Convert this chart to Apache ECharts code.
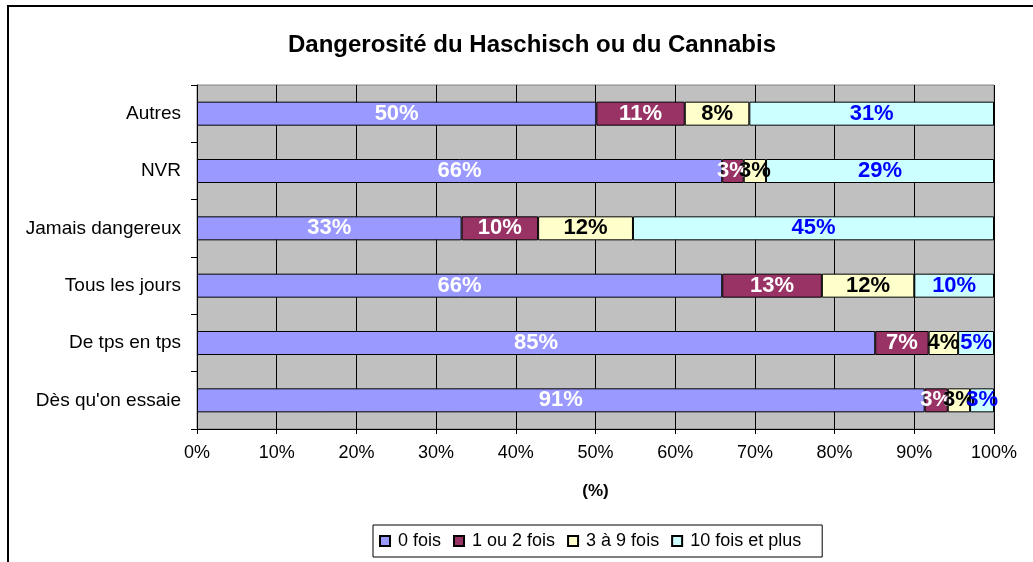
<!DOCTYPE html>
<html lang="fr">
<head>
    <meta charset="UTF-8">
    <title>Dangerosité</title>
    <script src="https://cdn.jsdelivr.net/npm/echarts@6/dist/echarts.min.js"></script>
</head>
<style>
html,body{margin:0;padding:0;background-color:#fff}
#chartBox{width:1033px;height:562px}
</style>
<body>
    <div id="chartBox"></div>
</body>
<script>
// catégories, de haut en bas
var categories = ['Autres', 'NVR', 'Jamais dangereux', 'Tous les jours', 'De tps en tps', "Dès qu'on essaie"];
var seriesNames = ['0 fois', '1 ou 2 fois', '3 à 9 fois', '10 fois et plus'];
var zeroFois = [50.1, 65.9, 33.2, 65.9, 85.1, 91.3];
var unDeuxFois = [11.1, 2.7, 9.6, 12.5, 6.7, 2.9];
var troisNeufFois = [8.1, 2.8, 11.9, 11.6, 3.7, 2.8];
var dixEtPlus = [30.7, 28.6, 45.3, 10.0, 4.5, 3.0];
var xTicks = [0, 10, 20, 30, 40, 50, 60, 70, 80, 90, 100];

var fillColors = ['#9999FF', '#993366', '#FFFFCC', '#CCFFFF'];
var labelColors = ['#FFFFFF', '#FFFFFF', '#000000', '#0000FF'];
var font = "'Liberation Sans', Arial, sans-serif";

function makeSeries(idx, data){
    return {
        type: 'bar',
        name: seriesNames[idx],
        stack: 'total',
        barWidth: 24,
        data: data,
        itemStyle: {
            color: fillColors[idx],
            borderColor: '#000',
            borderWidth: 1
        },
        label: {
            show: true,
            position: 'inside',
            color: labelColors[idx],
            fontFamily: font,
            fontWeight: 'bold',
            fontSize: 22,
            formatter: function(p){ return Math.round(p.value) + '%'; }
        },
        emphasis: {disabled: true}
    };
}

var chartObj = echarts.init(document.getElementById('chartBox'));
chartObj.setOption({
    animation: false,
    textStyle: {fontFamily: font},
    title: {
        text: 'Dangerosité du Haschisch ou du Cannabis',
        left: 527,
        top: 28,
        textAlign: 'center',
        textStyle: {fontFamily: font, fontSize: 24, fontWeight: 'bold', color: '#000'}
    },
    graphic: [{
        type: 'rect',
        shape: {x: 8, y: 6, width: 1100, height: 700},
        style: {fill: 'none', stroke: '#000', lineWidth: 2}
    }],
    grid: {
        left: 197,
        right: 39,
        top: 85,
        bottom: 133,
        show: true,
        backgroundColor: '#C0C0C0',
        borderColor: '#808080',
        borderWidth: 1
    },
    legend: {
        left: 373,
        top: 525,
        icon: 'rect',
        itemWidth: 10,
        itemHeight: 10,
        itemGap: 12,
        padding: [7, 21, 7, 6],
        borderColor: '#000',
        borderWidth: 1,
        textStyle: {fontFamily: font, fontSize: 18, color: '#000', padding: [0, 0, 0, 3]},
        data: seriesNames
    },
    xAxis: {
        type: 'value',
        min: 0,
        max: 100,
        interval: 10,
        name: '(%)',
        nameLocation: 'middle',
        nameGap: 54,
        nameTextStyle: {fontFamily: font, fontSize: 17, fontWeight: 'bold', color: '#000'},
        axisLine: {show: true, lineStyle: {color: '#000'}},
        axisTick: {show: true, length: 5, lineStyle: {color: '#000'}},
        axisLabel: {
            fontFamily: font, fontSize: 18, color: '#000', margin: 15,
            formatter: function(v){ return xTicks.indexOf(v) >= 0 ? v + '%' : ''; }
        },
        splitLine: {show: true, lineStyle: {color: '#000', width: 1}}
    },
    yAxis: {
        type: 'category',
        inverse: true,
        data: categories,
        axisLine: {show: true, lineStyle: {color: '#000'}},
        axisTick: {show: true, length: 6, lineStyle: {color: '#000'}},
        axisLabel: {fontFamily: font, fontSize: 19, color: '#000', margin: 16}
    },
    series: [
        makeSeries(0, zeroFois),
        makeSeries(1, unDeuxFois),
        makeSeries(2, troisNeufFois),
        makeSeries(3, dixEtPlus)
    ]
});
</script>
</html>
